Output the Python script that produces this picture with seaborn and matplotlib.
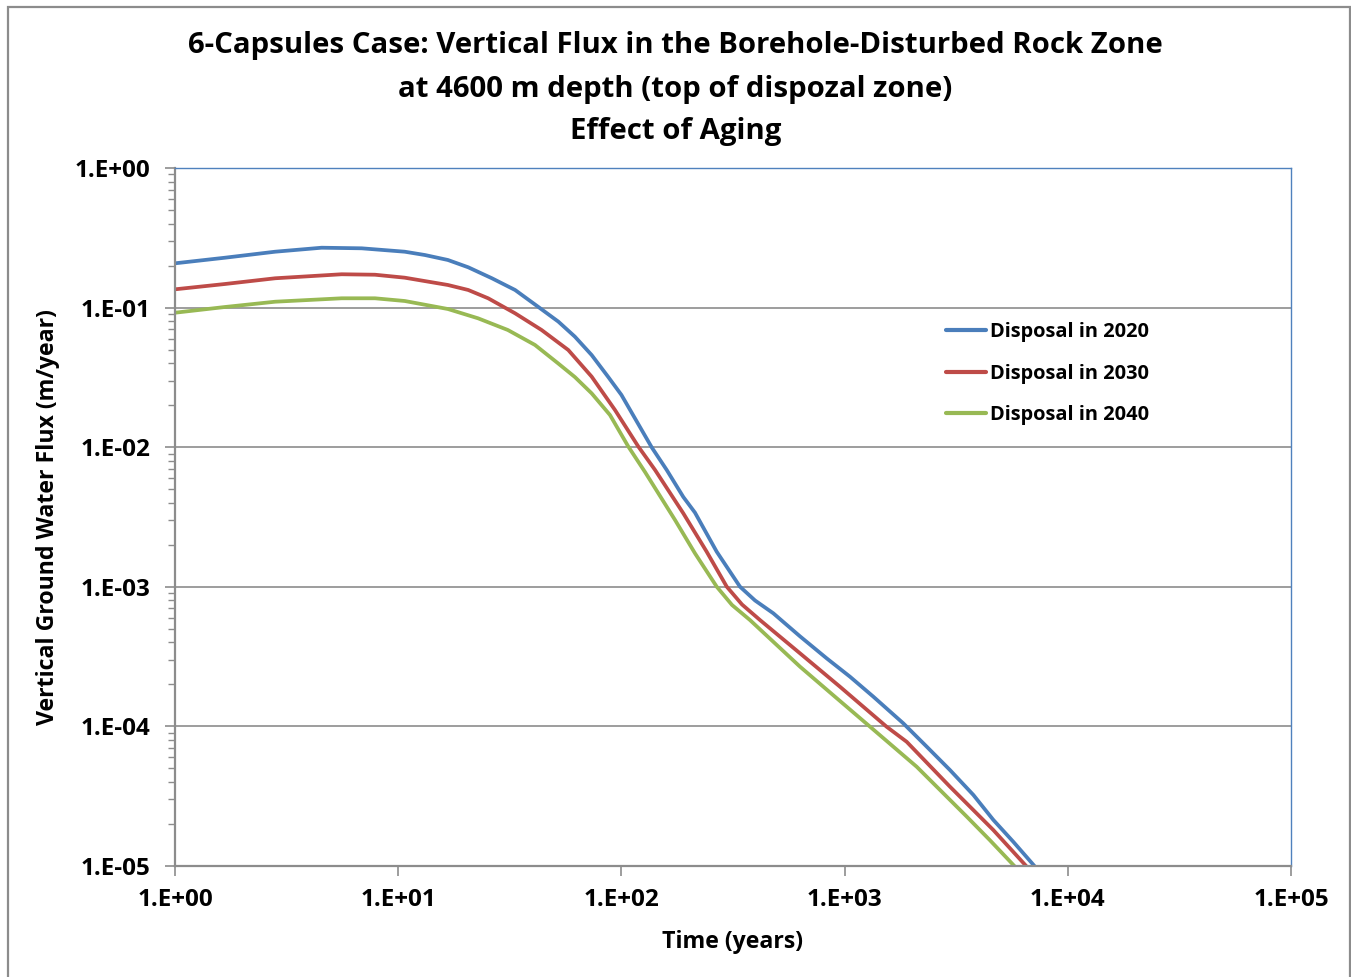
import numpy as np
import pandas as pd
import matplotlib
matplotlib.use("Agg")
import matplotlib.pyplot as plt
import seaborn as sns
from matplotlib.ticker import LogLocator, FixedLocator, NullFormatter
from matplotlib.patches import Rectangle

# ---- data ----
time_2020 = [1, 1.675, 2.81, 4.54, 6.86, 10.7, 13.18, 16.7, 20.6, 26.3, 33.4, 42.3,
             52.2, 61.9, 73.6, 87.1, 100, 136.7, 159.6, 189.4, 213.6, 267.3, 339.8,
             397, 479.3, 631, 831.8, 1057, 1345, 1832, 2333, 2965, 3774, 4637, 5701, 7127]
flux_2020 = [0.2076, 0.2277, 0.2514, 0.2685, 0.2659, 0.2514, 0.2380, 0.2193, 0.1944,
             0.1622, 0.1337, 0.1015, 0.0793, 0.0619, 0.0457, 0.0320, 0.0237, 0.00998,
             0.00687, 0.00440, 0.00340, 0.001784, 0.001002, 0.000798, 0.000646, 0.000442,
             0.000307, 0.000227, 0.0001633, 1.052e-4, 7.16e-5, 4.87e-5, 3.23e-5,
             2.14e-5, 1.49e-5, 9.9e-6]
time_2030 = [1, 1.675, 2.81, 5.58, 7.87, 10.7, 16.7, 20.6, 25.3, 33.4, 43.9, 57.8,
             73.6, 93.6, 119.1, 141.5, 189.4, 241, 296.5, 347, 417.8, 631, 953, 1542,
             1897, 2965, 4637, 6546]
flux_2030 = [0.1352, 0.1476, 0.1622, 0.1733, 0.1720, 0.1638, 0.1452, 0.1337, 0.1166,
             0.0910, 0.0691, 0.0497, 0.0320, 0.01847, 0.0101, 0.00687, 0.00336,
             0.001784, 0.001002, 0.000747, 0.000578, 0.000334, 0.0001925, 9.95e-5,
             7.76e-5, 3.70e-5, 1.81e-5, 9.9e-6]
time_2040 = [1, 1.675, 2.81, 5.58, 7.87, 10.7, 16.7, 22.8, 31.0, 41.0, 52.0, 61.9,
             73.6, 88.9, 107.4, 127.6, 173.9, 213.6, 267.3, 313, 376.7, 631, 905, 1300,
             2104, 3524, 4478, 5796]
flux_2040 = [0.0919, 0.1010, 0.1102, 0.1166, 0.1166, 0.1115, 0.0977, 0.0838, 0.0691,
             0.0540, 0.0399, 0.0318, 0.0243, 0.0170, 0.0101, 0.00664, 0.00301,
             0.001738, 0.001002, 0.000741, 0.000578, 0.000268, 0.0001633, 9.95e-5,
             5.14e-5, 2.26e-5, 1.53e-5, 9.9e-6]
series_names = ["Disposal in 2020", "Disposal in 2030", "Disposal in 2040"]
series_colors = ["#4A7EBB", "#BE4B48", "#98B954"]
x_ticks = [1, 10, 100, 1000, 10000, 100000]
x_tick_labels = ["1.E+00", "1.E+01", "1.E+02", "1.E+03", "1.E+04", "1.E+05"]
y_ticks = [1e-5, 1e-4, 1e-3, 1e-2, 1e-1, 1]
y_tick_labels = ["1.E-05", "1.E-04", "1.E-03", "1.E-02", "1.E-01", "1.E+00"]

df = pd.concat([
    pd.DataFrame({"Time": t, "Flux": v, "Series": name})
    for name, t, v in zip(series_names, [time_2020, time_2030, time_2040],
                          [flux_2020, flux_2030, flux_2040])
], ignore_index=True)

sns.set_theme(style="white")
plt.rcParams["font.family"] = ["Open Sans", "DejaVu Sans"]
plt.rcParams["font.weight"] = "bold"
plt.rcParams["text.color"] = "black"
plt.rcParams["axes.labelcolor"] = "black"
plt.rcParams["xtick.color"] = "black"
plt.rcParams["ytick.color"] = "black"

fig = plt.figure(figsize=(13.51, 9.77), dpi=100)
ax = fig.add_axes([175 / 1351, 1 - 866 / 977, (1291 - 175) / 1351, (866 - 168) / 977])

sns.lineplot(data=df, x="Time", y="Flux", hue="Series", hue_order=series_names,
             palette=series_colors, linewidth=2.7, ax=ax, legend=True, sort=False)

ax.set_xscale("log")
ax.set_yscale("log")
ax.set_xlim(1, 1e5)
ax.set_ylim(1e-5, 1)

ax.xaxis.set_major_locator(FixedLocator(x_ticks))
ax.set_xticklabels(x_tick_labels)
ax.xaxis.set_minor_locator(FixedLocator([]))
ax.yaxis.set_major_locator(FixedLocator(y_ticks))
ax.set_yticklabels(y_tick_labels)
ax.yaxis.set_minor_locator(LogLocator(base=10, subs=np.arange(2, 10)))
ax.yaxis.set_minor_formatter(NullFormatter())

grid_col = "#8C8C8C"
ax.grid(True, axis="y", which="major", color=grid_col, linewidth=1.2)
ax.set_axisbelow(True)
ax.tick_params(axis="x", which="major", direction="out", length=7, width=1.2,
               color=grid_col, labelcolor="black", labelsize=17.5, pad=9, bottom=True)
ax.tick_params(axis="y", which="major", direction="out", length=7, width=1.2,
               color=grid_col, labelcolor="black", labelsize=17.5, pad=11, left=True)
ax.tick_params(axis="y", which="minor", direction="out", length=5, width=1.0,
               color=grid_col, left=True)
for lab in ax.get_xticklabels() + ax.get_yticklabels():
    lab.set_fontweight("bold")

for side in ["left", "bottom"]:
    ax.spines[side].set_color(grid_col)
    ax.spines[side].set_linewidth(1.6)
for side in ["top", "right"]:
    ax.spines[side].set_color("#4F81BD")
    ax.spines[side].set_linewidth(1.0)

ax.set_xlabel("Time (years)", fontsize=16.7, fontweight="bold", labelpad=13)
ax.set_ylabel("Vertical Ground Water Flux (m/year)", fontsize=16.7, fontweight="bold",
              labelpad=10)

title_lines = ["6-Capsules Case: Vertical Flux in the Borehole-Disturbed Rock Zone",
               "at 4600 m depth (top of dispozal zone)",
               "Effect of Aging"]
for line, ypx in zip(title_lines, [46, 89, 132]):
    fig.text(0.5, 1 - ypx / 977, line, ha="center", va="center",
             fontsize=21.2, fontweight="bold")

leg = ax.legend(loc="upper left", bbox_to_anchor=(0.691, 0.779), frameon=False,
                fontsize=14.4, handlelength=2.0, handletextpad=0.2, labelspacing=1.08,
                borderaxespad=0, borderpad=0)
for t in leg.get_texts():
    t.set_fontweight("bold")
for h in leg.get_lines():
    h.set_linewidth(3)

fig.patches.append(Rectangle((8 / 1351, -0.01), (1350 - 8) / 1351, 1 - 7 / 977 + 0.01,
                             transform=fig.transFigure, fill=False,
                             edgecolor="#8C8C8C", linewidth=1.6))

fig.savefig("out.png", dpi=100)
